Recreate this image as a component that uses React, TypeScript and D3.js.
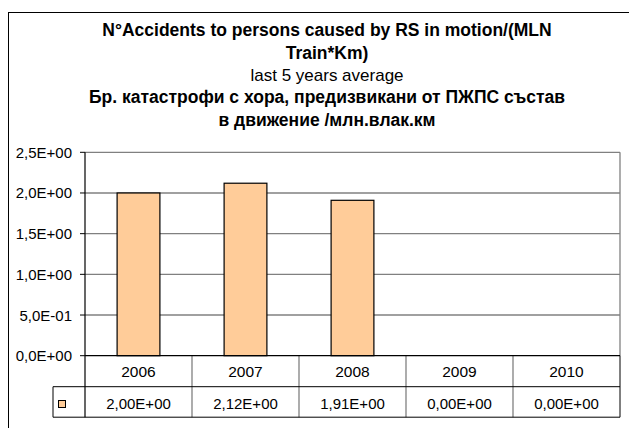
import React from "react";
import * as d3 from "d3";

const categories = ["2006", "2007", "2008", "2009", "2010"];
const values = [2.0, 2.12, 1.91, 0.0, 0.0];
const valueLabels = ["2,00E+00", "2,12E+00", "1,91E+00", "0,00E+00", "0,00E+00"];
const yTicks = [0, 0.5, 1.0, 1.5, 2.0, 2.5];
const yTickLabels = ["0,0E+00", "5,0E-01", "1,0E+00", "1,5E+00", "2,0E+00", "2,5E+00"];
const titleLines = [
  "N°Accidents to persons caused by RS in motion/(MLN",
  "Train*Km)",
  "last 5 years average",
  "Бр. катастрофи с хора, предизвикани от ПЖПС състав",
  "в движение /млн.влак.км",
];

const FONT = "'Liberation Sans', Arial, sans-serif";

export default function App() {
  const W = 629, H = 428;
  const left = 85, right = 620, top = 152.3, bottom = 355.7;
  const rowH = 31;
  const x = d3.scaleBand<string>().domain(categories).range([left, right]).paddingInner(0).paddingOuter(0);
  const y = d3.scaleLinear().domain([0, 2.5]).range([bottom, top]);
  const barW = x.bandwidth() * 0.4;

  const titleSpecs = [
    { y: 36, bold: true },
    { y: 59, bold: true },
    { y: 80.5, bold: false },
    { y: 103, bold: true },
    { y: 125.5, bold: true },
  ];
  const titleCx = 327;

  const row1 = bottom + rowH;
  const row2 = row1 + 30.5;

  return (
    <svg width={W} height={H} style={{ position: "absolute", left: 0, top: 0, background: "#fff" }}>
      <rect x={0} y={0} width={W} height={H} fill="#fff" />
      {/* outer border */}
      <rect x={8.5} y={12.5} width={W + 20} height={H + 20} fill="none" stroke="#000" strokeWidth={1} />
      {/* titles */}
      {titleLines.map((t, i) => (
        <text
          key={i}
          x={titleCx}
          y={titleSpecs[i].y}
          textAnchor="middle"
          fontFamily={FONT}
          fontSize={titleSpecs[i].bold ? 17.5 : 17}
          fontWeight={titleSpecs[i].bold ? "bold" : "normal"}
          fill="#000"
        >
          {t}
        </text>
      ))}
      {/* gridlines */}
      {yTicks.filter((v) => v > 0).map((v) => (
        <line key={v} x1={left} x2={right} y1={y(v)} y2={y(v)} stroke="#808080" strokeWidth={1.3} />
      ))}
      {/* plot right border */}
      <line x1={right} x2={right} y1={top} y2={bottom} stroke="#808080" strokeWidth={1.3} />
      {/* bars */}
      {values.map((v, i) =>
        v > 0 ? (
          <rect
            key={i}
            x={(x(categories[i]) as number) + (x.bandwidth() - barW) / 2}
            y={y(v)}
            width={barW}
            height={y(0) - y(v)}
            fill="#FFCC99"
            stroke="#000"
            strokeWidth={1.2}
          />
        ) : null
      )}
      {/* y tick marks and labels */}
      {yTicks.map((v, i) => (
        <g key={v}>
          <line x1={80} x2={left} y1={y(v)} y2={y(v)} stroke="#000" strokeWidth={1} />
          <text x={72} y={y(v) + 5.5} textAnchor="end" fontFamily={FONT} fontSize={15} fill="#000">
            {yTickLabels[i]}
          </text>
        </g>
      ))}
      {/* table vertical lines */}
      {categories.map((c, i) =>
        i > 0 ? (
          <line key={c} x1={x(c)} x2={x(c)} y1={bottom} y2={row2} stroke="#808080" strokeWidth={1.3} />
        ) : null
      )}
      <line x1={right} x2={right} y1={bottom} y2={row2} stroke="#000" strokeWidth={1} />
      <line x1={53} x2={53} y1={row1} y2={row2} stroke="#000" strokeWidth={1} />
      {/* axis */}
      <line x1={left} x2={left} y1={top} y2={row2} stroke="#000" strokeWidth={1.2} />
      {/* table horizontal lines */}
      <line x1={left} x2={right} y1={bottom} y2={bottom} stroke="#000" strokeWidth={1.2} />
      <line x1={53} x2={right} y1={row1} y2={row1} stroke="#000" strokeWidth={1} />
      <line x1={53} x2={right} y1={row2} y2={row2} stroke="#000" strokeWidth={1} />
      {/* legend marker */}
      <rect x={58.5} y={400.5} width={7} height={7} fill="#FFCC99" stroke="#000" strokeWidth={1} />
      {/* category labels */}
      {categories.map((c) => (
        <text
          key={c}
          x={(x(c) as number) + x.bandwidth() / 2}
          y={bottom + 21}
          textAnchor="middle"
          fontFamily={FONT}
          fontSize={15.5}
          fill="#000"
        >
          {c}
        </text>
      ))}
      {/* value labels */}
      {valueLabels.map((t, i) => (
        <text
          key={i}
          x={(x(categories[i]) as number) + x.bandwidth() / 2}
          y={row1 + 22}
          textAnchor="middle"
          fontFamily={FONT}
          fontSize={15}
          fill="#000"
        >
          {t}
        </text>
      ))}
    </svg>
  );
}
